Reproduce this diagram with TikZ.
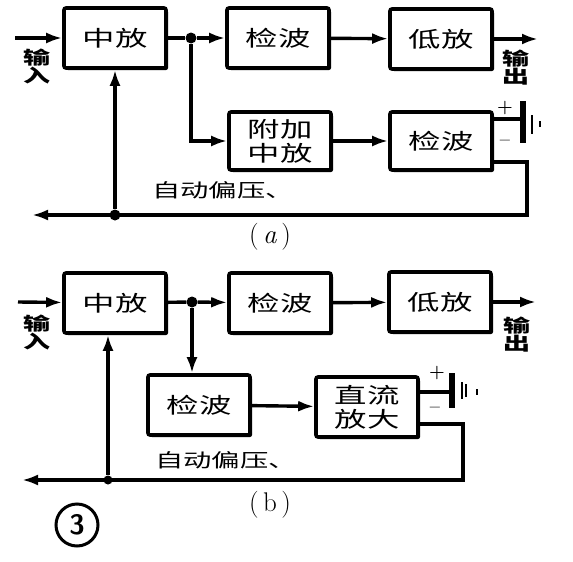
\documentclass[tikz,border=0pt]{standalone}
\usepackage{fontspec}
\newfontfamily\cjk{Noto Sans CJK SC}
\usepackage{tikz}
\usetikzlibrary{shapes,arrows,arrows.meta,shadows}
\newcommand{\flatText}[1]{\scalebox{1.35}[0.9]{#1}}
\tikzstyle{stageBox} = [rectangle, draw, fill=white, line width=3.6pt, rounded corners=2pt,
    minimum width=102pt, minimum height=60pt, align=center,
    font=\cjk\fontsize{24}{24}\selectfont,
    drop shadow={shadow xshift=2pt, shadow yshift=-2pt, fill=black, opacity=1}]
\tikzstyle{conversion} = [draw, line width=3.4pt, -{Latex[length=16pt,width=11pt]}]
\tikzstyle{wire} = [draw, line width=3.4pt]
\tikzstyle{junction} = [circle, fill=black, inner sep=0pt, minimum size=11pt]
\tikzstyle{portText} = [align=center, inner sep=0pt, font=\cjk\bfseries\fontsize{20}{18}\selectfont]
\tikzstyle{biasText} = [inner sep=0pt, font=\cjk\fontsize{21}{23}\selectfont]
\tikzstyle{signText} = [inner sep=0pt, font=\bfseries\fontsize{18}{20}\selectfont]
\tikzstyle{captionText} = [font=\fontsize{27}{29}\selectfont]
\tikzstyle{plate} = [line width=5.5pt]
\tikzstyle{earth} = [line width=2pt]

\begin{document}
\begin{tikzpicture}[x=1pt, y=-1pt]
    \useasboundingbox (0,0) rectangle (573,562);
    % Place nodes (a)
    \node[stageBox](ifAmpA) at (115,38){\flatText{中放}};
    \node[stageBox](detectA) at (278,38){\flatText{检波}};
    \node[stageBox](afAmpA) at (441,39){\flatText{低放}};
    \node[stageBox, minimum height=58pt](auxAmpA) at (280,141){\flatText{附加}\\\flatText{中放}};
    \node[stageBox, minimum height=58pt](auxDetectA) at (441,141){\flatText{检波}};
    \node[junction](splitA) at (191,38){};
    \node[junction](tapA) at (115,215){};
    \coordinate (inA) at (15,38);
    \coordinate (outA) at (538,39);
    \coordinate (turnA) at (527,215);
    \coordinate (biasEndA) at (32,215);
    \coordinate (plusA) at (523,119);
    \node[portText](inTextA) at (37,67){\flatText{输}\\\flatText{入}};
    \node[portText](outTextA) at (516,68){\flatText{输}\\\flatText{出}};
    \node[biasText](biasTextA) at (223,190){\flatText{自动偏压、}};
    \node[captionText](captionA) at (270,237){(\,\textit{a}\,)};
    \node[signText](plusTextA) at (505,108){+};
    \node[signText](minusTextA) at (505,143){--};

    \path[conversion] (inA) -- (ifAmpA);
    \path[wire] (ifAmpA) -- (splitA);
    \path[conversion] (splitA) -- (detectA);
    \path[conversion] (detectA) -- (afAmpA);
    \path[conversion] (afAmpA) -- (outA);
    \path[conversion] (splitA) |- (auxAmpA);
    \path[conversion] (auxAmpA) -- (auxDetectA);
    \path[conversion] ([yshift=10pt]auxDetectA.south east) -| (turnA) -- (biasEndA);
    \path[conversion] (tapA) -- (ifAmpA);
    \path[wire] (auxDetectA.east |- plusA) -- (plusA);
    \draw[plate] (523,101) -- (523,143);
    \draw[earth] (532,115) -- (532,134);
    \draw[earth] (540,121) -- (540,127);

    % Place nodes (b)
    \node[stageBox](ifAmpB) at (115,303){\flatText{中放}};
    \node[stageBox](detectB) at (280,303){\flatText{检波}};
    \node[stageBox](afAmpB) at (440,302){\flatText{低放}};
    \node[stageBox](auxDetectB) at (199,405){\flatText{检波}};
    \node[stageBox](dcAmpB) at (367,407){\flatText{直流}\\\flatText{放大}};
    \node[junction](splitB) at (192,302){};
    \node[junction, minimum size=9pt](tapB) at (108,480){};
    \coordinate (inB) at (18,302);
    \coordinate (outB) at (536,302);
    \coordinate (turnB) at (463,480);
    \coordinate (biasEndB) at (22,480);
    \coordinate (plusB) at (452,392);
    \node[portText](inTextB) at (37,333){\flatText{输}\\\flatText{入}};
    \node[portText](outTextB) at (517,335){\flatText{输}\\\flatText{出}};
    \node[biasText](biasTextB) at (226,460){\flatText{自动偏压、}};
    \node[captionText](captionB) at (270,505){(\,b\,)};
    \node[signText](plusTextB) at (437,373){+};
    \node[signText](minusTextB) at (435,410){--};
    \node[circle, draw, line width=3pt, minimum size=42pt, inner sep=0pt,
        font=\sffamily\bfseries\fontsize{28}{30}\selectfont](figNum) at (77,525){3};

    \path[conversion] (inB) -- (ifAmpB);
    \path[wire] (ifAmpB) -- (splitB);
    \path[conversion] (splitB) -- (detectB);
    \path[conversion] (detectB) -- (afAmpB);
    \path[conversion] (afAmpB) -- (outB);
    \path[conversion] (splitB) -- (splitB |- auxDetectB.north);
    \path[conversion] (auxDetectB) -- (dcAmpB);
    \path[conversion] ([yshift=15pt]dcAmpB.south east) -| (turnB) -- (biasEndB);
    \path[conversion] (tapB) -- (tapB |- ifAmpB.south);
    \path[wire] (dcAmpB.east |- plusB) -- (plusB);
    \draw[plate] (452,373) -- (452,408);
    \draw[earth] (462,382) -- (462,399);
    \draw[earth] (466,384) -- (466,397);
    \draw[earth] (477,389) -- (477,395);
\end{tikzpicture}
\end{document}
